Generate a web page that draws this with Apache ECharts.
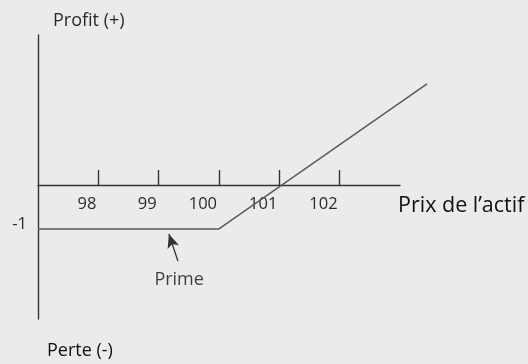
<!DOCTYPE html>
<html><head><meta charset="utf-8">
<script src="https://cdn.jsdelivr.net/npm/echarts@6/dist/echarts.min.js"></script>
<style>html,body{margin:0;padding:0;background:#ebebeb}#c{width:528px;height:364px}</style>
</head><body><div id="c"></div>
<script>
// Data
const xTicks = [98, 99, 100, 101, 102];
const yTicks = [-1];
const payoffX = [97, 100, 103.45];
const payoffY = [-1, -1, 2.3];
const arrowFrom = [99.32, -1.73];
const arrowTo = [99.17, -1.115];
const primeLabelPos = [99.34, -2.16];
const primeText = 'Prime';
const xName = 'Prix de l\u2019actif';
const yTopName = 'Profit (+)';
const yBottomName = 'Perte (-)';

const font = '"Open Sans", sans-serif';
const axisColor = '#333';
const chart = echarts.init(document.getElementById('c'));
chart.setOption({
  backgroundColor: '#ebebeb',
  animation: false,
  grid: [
    { left: 38, width: 362, top: 35, height: 150 },
    { left: 38, width: 389, top: 35, height: 284 }
  ],
  xAxis: [
    {
      gridIndex: 0, type: 'value', min: 97, max: 103, interval: 1, position: 'bottom',
      axisLine: { show: true, onZero: false, lineStyle: { color: axisColor, width: 1.4 } },
      axisTick: { show: true, inside: true, length: 15, customValues: xTicks, lineStyle: { color: axisColor, width: 1.4 } },
      axisLabel: { show: true, customValues: xTicks, align: 'right', padding: [0, 2, 0, 0], margin: 11,
        color: '#2a2a2a', fontSize: 16.5, fontFamily: font },
      splitLine: { show: false }
    },
    {
      gridIndex: 1, type: 'value', min: 97, max: 103.45,
      axisLine: { show: false }, axisTick: { show: false }, axisLabel: { show: false }, splitLine: { show: false }
    }
  ],
  yAxis: [
    {
      gridIndex: 0, type: 'value', min: 0, max: 3.41,
      axisLine: { show: false }, axisTick: { show: false }, axisLabel: { show: false }, splitLine: { show: false }
    },
    {
      gridIndex: 1, type: 'value', min: -3.05, max: 3.41,
      axisLine: { show: true, onZero: false, lineStyle: { color: axisColor, width: 1.4 } },
      axisTick: { show: false },
      axisLabel: { show: true, customValues: yTicks, margin: 11, verticalAlign: 'bottom', lineHeight: 9,
        color: '#2a2a2a', fontSize: 16.5, fontFamily: font },
      splitLine: { show: false }
    }
  ],
  series: [
    {
      type: 'line', xAxisIndex: 1, yAxisIndex: 1, symbol: 'none',
      data: payoffX.map((x, i) => [x, payoffY[i]]),
      lineStyle: { color: '#5a5a5a', width: 1.5 }
    },
    {
      type: 'scatter', xAxisIndex: 1, yAxisIndex: 1, symbolSize: 0,
      data: [primeLabelPos],
      label: { show: true, formatter: primeText, position: 'inside', color: '#111', fontSize: 18, fontFamily: font },
      markLine: {
        silent: true, symbol: ['none', 'arrow'], symbolSize: [9, 14],
        lineStyle: { color: '#333', width: 1.3, type: 'solid' },
        label: { show: false },
        data: [[{ coord: arrowFrom }, { coord: arrowTo }]]
      }
    }
  ],
  graphic: [
    { type: 'text', left: 53, top: 12, style: { text: yTopName, fill: '#2a2a2a', font: '18px ' + font } },
    { type: 'text', left: 47, top: 342, style: { text: yBottomName, fill: '#111', font: '18px ' + font } },
    { type: 'text', left: 398, top: 195, style: { text: xName, fill: '#111', font: '21.5px ' + font } }
  ]
});
</script></body></html>
